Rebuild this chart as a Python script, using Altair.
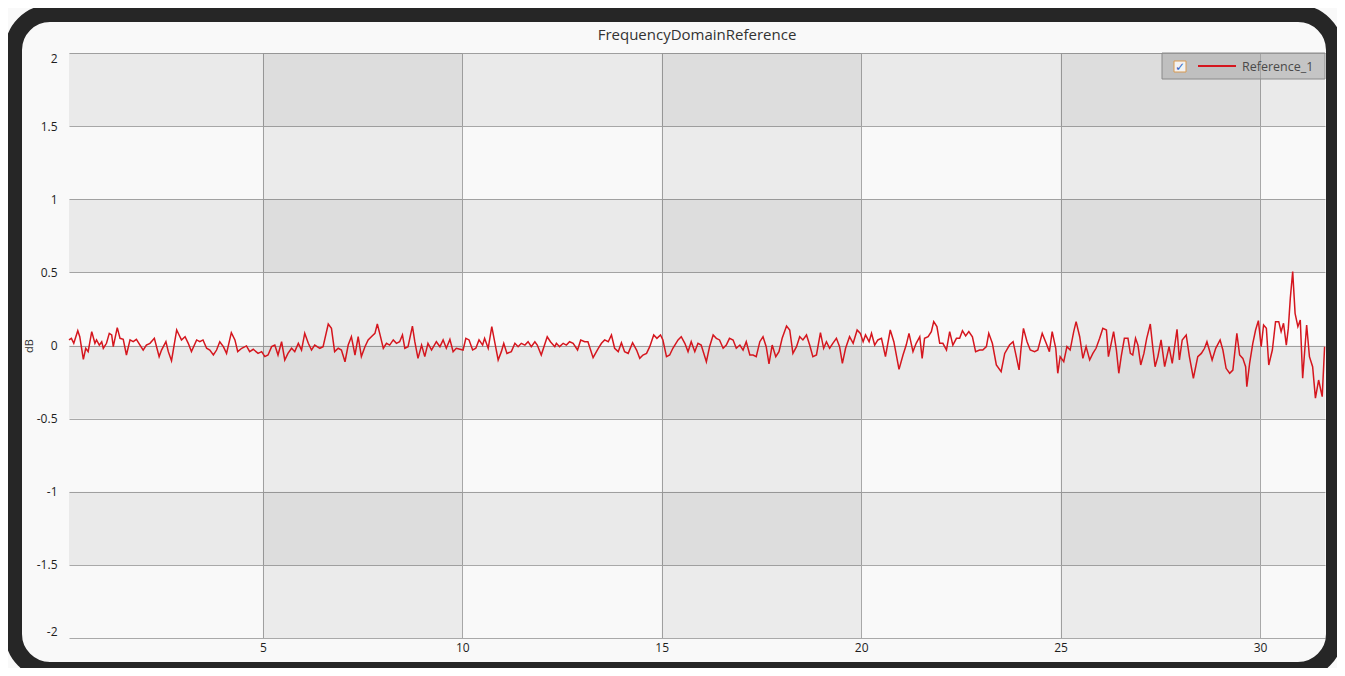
import altair as alt
import pandas as pd

chart_title = "FrequencyDomainReference"
series_name = "Reference_1"
y_title = "dB"

# ---- series values (frequency, dB) ----
freq_a = [0.14, 0.20, 0.26, 0.36, 0.41, 0.50, 0.56, 0.62, 0.71, 0.79,
          0.83, 0.90, 0.96, 1.00, 1.08, 1.15, 1.21, 1.25, 1.35, 1.42,
          1.50, 1.58, 1.67, 1.75, 1.83, 1.92, 2.00, 2.08, 2.17, 2.28,
          2.40, 2.46, 2.57, 2.63, 2.71, 2.84, 2.90, 2.96, 3.05, 3.13,
          3.21, 3.34, 3.42, 3.50, 3.59, 3.67, 3.76, 3.84, 3.92, 4.01,
          4.09, 4.21, 4.30, 4.37, 4.47, 4.59, 4.67, 4.76, 4.88, 4.97,
          5.05, 5.13, 5.22, 5.30, 5.38, 5.47, 5.55, 5.63, 5.72, 5.80,
          5.89, 5.97, 6.05, 6.14, 6.22, 6.30, 6.43, 6.51, 6.64, 6.72,
          6.80, 6.89, 6.97, 7.06, 7.14, 7.22, 7.31, 7.39, 7.47, 7.56,
          7.64, 7.72, 7.81, 7.87, 7.93, 8.02, 8.10, 8.18, 8.27, 8.35,
          8.43, 8.50, 8.56, 8.64, 8.75, 8.81, 8.89, 8.98, 9.06, 9.14,
          9.23, 9.35, 9.44, 9.52, 9.60, 9.69, 9.77, 9.85]
db_a = [0.038, 0.049, 0.015, 0.101, 0.060, -0.095, -0.019, -0.042, 0.095, 0.015,
        0.038, 0.003, 0.026, -0.019, 0.015, 0.083, 0.072, -0.008, 0.122, 0.049,
        0.042, -0.065, 0.038, 0.026, 0.042, 0.003, -0.031, 0.003, 0.015, 0.049,
        -0.076, -0.031, 0.026, -0.042, -0.104, 0.106, 0.072, 0.038, 0.060, 0.015,
        -0.042, 0.038, 0.026, 0.038, -0.019, -0.031, -0.065, -0.031, 0.026, -0.008,
        -0.054, 0.088, 0.038, -0.042, -0.019, -0.003, -0.042, -0.026, -0.054, -0.042,
        -0.076, -0.065, -0.008, 0.003, -0.065, 0.026, -0.099, -0.054, -0.019, -0.042,
        0.015, -0.031, 0.083, 0.015, -0.031, 0.003, -0.019, -0.008, 0.147, 0.117,
        -0.042, -0.019, -0.031, -0.111, 0.003, 0.060, -0.065, 0.060, -0.076, -0.008,
        0.038, 0.060, 0.083, 0.147, 0.083, -0.019, 0.015, 0.003, 0.038, 0.015,
        0.026, 0.072, -0.019, -0.008, 0.133, 0.026, -0.088, 0.003, -0.076, 0.015,
        -0.031, 0.026, -0.008, 0.038, -0.019, 0.042, -0.042, -0.019]

freq_b = [10.02, 10.09, 10.17, 10.26, 10.34, 10.42, 10.51, 10.56, 10.65, 10.74,
          10.82, 10.90, 10.98, 11.04, 11.12, 11.23, 11.32, 11.40, 11.48, 11.57,
          11.65, 11.73, 11.82, 11.88, 11.98, 12.13, 12.21, 12.32, 12.36, 12.44,
          12.53, 12.61, 12.69, 12.78, 12.89, 12.97, 13.07, 13.15, 13.28, 13.41,
          13.49, 13.57, 13.66, 13.74, 13.82, 13.91, 13.99, 14.07, 14.16, 14.27,
          14.37, 14.45, 14.53, 14.62, 14.70, 14.80, 14.88, 14.97, 15.03, 15.12,
          15.20, 15.28, 15.41, 15.49, 15.58, 15.66, 15.74, 15.83, 15.91, 15.99,
          16.12, 16.20, 16.29, 16.37, 16.45, 16.54, 16.62, 16.70, 16.79, 16.87,
          16.96, 17.04, 17.12, 17.21, 17.29, 17.37, 17.46, 17.54, 17.62, 17.69,
          17.77, 17.86, 17.94, 18.02, 18.13, 18.21, 18.29, 18.38, 18.46, 18.54,
          18.63, 18.71, 18.79, 18.88, 18.98, 19.06, 19.13, 19.21, 19.29, 19.38,
          19.46, 19.53, 19.61]
db_b = [-0.031, 0.049, 0.038, -0.031, -0.019, 0.038, 0.003, 0.049, -0.019, 0.129,
        0.015, -0.099, -0.042, 0.015, -0.054, -0.042, 0.015, -0.008, 0.015, 0.003,
        0.026, -0.008, 0.026, 0.003, -0.065, 0.060, 0.026, -0.008, 0.015, -0.008,
        0.015, 0.003, 0.026, 0.015, -0.031, 0.038, 0.026, 0.026, -0.083, -0.019,
        0.015, 0.038, 0.026, 0.072, -0.019, -0.042, 0.019, -0.042, -0.054, 0.019,
        -0.031, -0.088, -0.065, -0.054, -0.008, 0.072, 0.049, 0.072, 0.038, -0.076,
        -0.065, -0.019, 0.038, 0.060, 0.015, -0.042, 0.026, -0.042, 0.015, 0.003,
        -0.111, -0.008, 0.072, 0.049, 0.038, -0.019, 0.003, 0.049, 0.038, -0.019,
        0.003, -0.031, 0.026, -0.065, -0.065, -0.076, 0.026, 0.060, -0.008, -0.126,
        0.003, -0.076, -0.042, 0.049, 0.133, 0.106, -0.054, -0.008, 0.060, 0.038,
        0.072, 0.003, -0.076, -0.065, 0.088, -0.019, 0.026, -0.019, 0.015, 0.049,
        -0.008, -0.122, -0.019]

freq_c = [19.71, 19.80, 19.90, 19.98, 20.05, 20.11, 20.20, 20.26, 20.34, 20.42,
          20.51, 20.61, 20.73, 20.82, 20.95, 21.05, 21.13, 21.20, 21.30, 21.38,
          21.47, 21.53, 21.59, 21.68, 21.76, 21.82, 21.90, 21.97, 22.05, 22.14,
          22.22, 22.30, 22.39, 22.47, 22.54, 22.62, 22.70, 22.79, 22.87, 22.97,
          23.05, 23.14, 23.20, 23.29, 23.39, 23.51, 23.60, 23.72, 23.81, 23.89,
          23.96, 24.01, 24.07, 24.16, 24.24, 24.35, 24.43, 24.54, 24.64, 24.72,
          24.79, 24.88, 24.93, 24.99, 25.08, 25.16, 25.24, 25.33, 25.39, 25.48,
          25.56, 25.64, 25.73, 25.81, 25.89, 25.98]
db_c = [0.060, 0.015, 0.106, 0.083, 0.026, 0.072, 0.026, 0.083, 0.003, 0.038,
        0.049, -0.076, 0.106, 0.026, -0.163, -0.065, 0.003, 0.083, -0.042, 0.015,
        0.060, -0.088, 0.049, 0.060, 0.095, 0.163, 0.129, 0.015, 0.015, -0.031,
        0.095, 0.003, 0.049, 0.049, 0.101, 0.065, 0.095, 0.060, -0.042, -0.031,
        -0.031, -0.008, 0.083, 0.015, -0.133, -0.179, -0.054, 0.003, 0.026, -0.076,
        -0.167, -0.019, 0.117, 0.026, -0.031, -0.042, -0.031, 0.083, 0.015, -0.042,
        0.095, -0.019, -0.190, -0.076, -0.111, -0.008, -0.031, 0.095, 0.163, 0.060,
        -0.088, -0.008, -0.099, -0.054, -0.019, 0.049]

freq_d = [26.06, 26.15, 26.20, 26.27, 26.33, 26.40, 26.46, 26.52, 26.60, 26.69,
          26.75, 26.81, 26.88, 26.94, 27.01, 27.09, 27.16, 27.25, 27.31, 27.37,
          27.44, 27.52, 27.61, 27.72, 27.80, 27.92, 27.98, 28.05, 28.15, 28.23,
          28.33, 28.44, 28.53, 28.61, 28.67, 28.73, 28.80, 28.89, 29.00, 29.07,
          29.15, 29.24, 29.32, 29.42, 29.49, 29.57, 29.64, 29.67, 29.74, 29.82,
          29.89, 29.96, 30.03, 30.09, 30.16, 30.22, 30.31, 30.39, 30.47, 30.53,
          30.59, 30.66, 30.71, 30.76, 30.82, 30.88, 30.95, 31.01, 31.07, 31.17,
          31.24, 31.32, 31.39, 31.47, 31.56, 31.62]
db_d = [0.117, 0.106, -0.076, 0.015, 0.095, -0.031, -0.190, -0.076, 0.049, 0.049,
        -0.054, -0.065, 0.049, 0.003, -0.133, -0.054, 0.049, 0.147, -0.008, -0.145,
        -0.076, 0.038, -0.145, -0.008, -0.122, 0.111, -0.099, 0.038, 0.072, -0.076,
        -0.224, -0.076, -0.054, -0.019, 0.026, -0.031, -0.099, -0.019, 0.038, -0.031,
        -0.156, -0.190, -0.168, 0.083, -0.065, -0.088, -0.145, -0.281, -0.122, 0.015,
        0.106, 0.170, -0.008, 0.140, 0.117, -0.133, -0.031, 0.163, 0.163, 0.095,
        0.152, 0.003, 0.117, 0.322, 0.505, 0.220, 0.129, 0.174, -0.224, 0.140,
        -0.076, -0.145, -0.360, -0.236, -0.350, -0.008]

# ---- axes ----
x_domain = [0.14, 31.63]
y_domain = [-2, 2]
x_ticks = [5, 10, 15, 20, 25, 30]
y_ticks = [-2, -1.5, -1, -0.5, 0, 0.5, 1, 1.5, 2]

# alternating shaded bands of the plot background
row_band_lo = [1.5, 0.5, -0.5, -1.5]
row_band_hi = [2, 1, 0, -1]
col_band_lo = [5, 15, 25]
col_band_hi = [10, 20, 30]

freq = freq_a + freq_b + freq_c + freq_d
db = db_a + db_b + db_c + db_d
line_df = pd.DataFrame({"freq": freq, "db": db})
rows_df = pd.DataFrame({"rlo": row_band_lo, "rhi": row_band_hi})
cols_df = pd.DataFrame({"clo": col_band_lo, "chi": col_band_hi})

W, H = 1256, 585
RED = "#d5161e"
GRID = "#a9a9a9"
FONT = "Open Sans"

x_scale = alt.Scale(domain=x_domain, nice=False, zero=False)
y_scale = alt.Scale(domain=y_domain, nice=False, zero=False)

x_axis = alt.Axis(values=x_ticks, grid=True, gridColor=GRID, gridWidth=1,
                  domain=False, ticks=False, labelPadding=4, labelFontSize=12,
                  labelFont=FONT, labelColor="#1e1e1e", title=None,
                  labelExpr="'' + datum.value")
y_axis = alt.Axis(values=y_ticks, grid=True, gridColor=GRID, gridWidth=1,
                  domain=False, ticks=False, labelPadding=12, labelFontSize=12,
                  labelFont=FONT, labelColor="#1e1e1e", labelFlush=True,
                  labelExpr="'' + datum.value",
                  title=y_title, titleFont=FONT, titleFontSize=11,
                  titleFontWeight="normal", titleColor="#333333",
                  titleAngle=270, titleX=-40, titleY=H / 2,
                  titleAlign="center", titleBaseline="middle")

row_bands = alt.Chart(rows_df).mark_rect(color="black", opacity=0.06).encode(
    x=alt.value(0), x2=alt.value("width"),
    y=alt.Y("rlo:Q", scale=y_scale, axis=y_axis), y2="rhi:Q")

col_bands = alt.Chart(cols_df).mark_rect(color="black", opacity=0.056).encode(
    x=alt.X("clo:Q", scale=x_scale, axis=x_axis), x2="chi:Q",
    y=alt.value(0), y2=alt.value("height"))

line = alt.Chart(line_df).mark_line(color=RED, strokeWidth=1.5).encode(
    x=alt.X("freq:Q", scale=x_scale, axis=x_axis),
    y=alt.Y("db:Q", scale=y_scale, axis=y_axis))

one = alt.Data(values=[{"name": series_name, "title": chart_title}])

title_mark = alt.Chart(one).mark_text(align="center", baseline="middle",
                                      font=FONT, fontSize=15,
                                      color="#333333").encode(
    x=alt.value(W / 2), y=alt.value(-18), text="title:N")

legend_box = alt.Chart(one).mark_rect(fill="#a6a6a6", fillOpacity=0.55,
                                      stroke="#8a8a8a", strokeWidth=1).encode(
    x=alt.value(1093), x2=alt.value(W), y=alt.value(0), y2=alt.value(26))
legend_swatch = alt.Chart(one).mark_rule(color=RED, strokeWidth=2).encode(
    x=alt.value(1129), x2=alt.value(1167), y=alt.value(13))
legend_label = alt.Chart(one).mark_text(align="left", baseline="middle",
                                        font=FONT, fontSize=12.5,
                                        color="#4a4a4a").encode(
    x=alt.value(1173), y=alt.value(13.5), text="name:N")
check_box = alt.Chart(one).mark_rect(fill="#f2f2f2", stroke="#d99a50",
                                     strokeWidth=1).encode(
    x=alt.value(1105), x2=alt.value(1117), y=alt.value(8), y2=alt.value(19))
check_mark = alt.Chart(one).mark_text(text="\u2713", font="DejaVu Sans",
                                      fontSize=12, color="#2f63c4",
                                      fontWeight="bold").encode(
    x=alt.value(1111), y=alt.value(14))

# dark rounded device frame around the chart
frame = alt.Chart(one).mark_rect(filled=False, stroke="#262626", strokeWidth=17,
                                 cornerRadius=36.5).encode(
    x=alt.value(-55.5), x2=alt.value(1265.5),
    y=alt.value(-39.5), y2=alt.value(617.5))

chart = alt.layer(
    row_bands, col_bands, line, title_mark,
    legend_box, legend_swatch, legend_label, check_box, check_mark, frame
).properties(
    width=W, height=H,
    padding={"left": 61, "top": 45, "right": 12, "bottom": 30},
    autosize=alt.AutoSizeParams(type="none"),
).configure(background="#f9f9f9").configure_view(stroke=None)

chart.save("out.html", embed_options={"renderer": "svg", "actions": False})
